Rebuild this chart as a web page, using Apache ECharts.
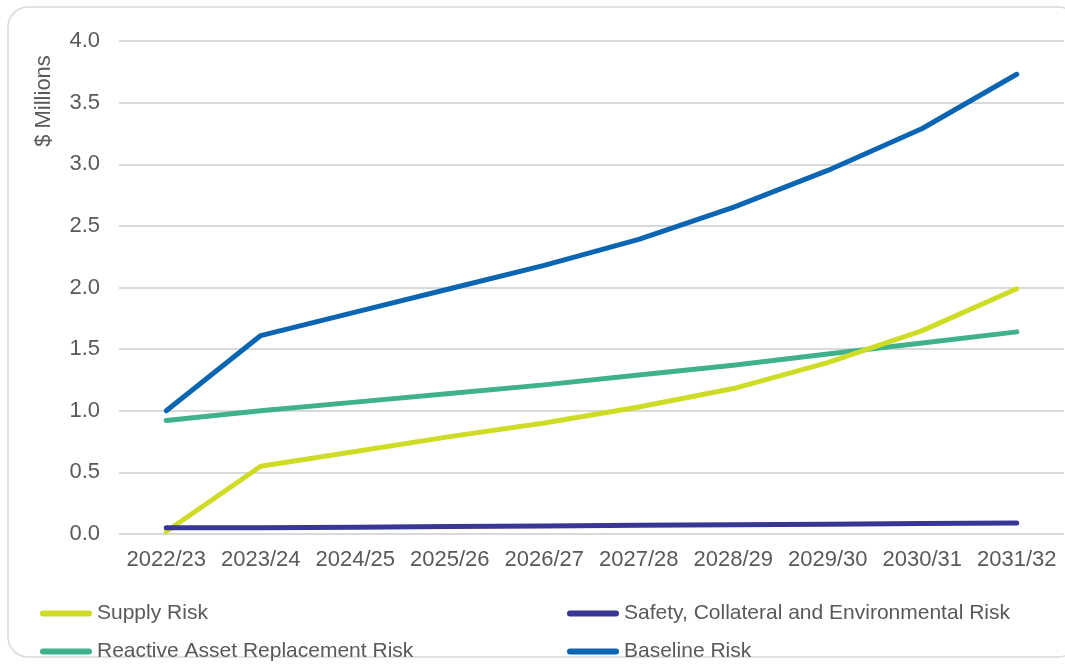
<!DOCTYPE html>
<html>
<head>
<meta charset="utf-8">
<script src="https://cdn.jsdelivr.net/npm/echarts@6/dist/echarts.min.js"></script>
<style>
  html, body { margin: 0; padding: 0; background: #fff; }
  #chart { width: 1065px; height: 666px; }
</style>
</head>
<body>
<div id="chart"></div>
<script>
// risk profile chart
var years = ['2022/23', '2023/24', '2024/25', '2025/26', '2026/27', '2027/28', '2028/29', '2029/30', '2030/31', '2031/32'];
var supplyRisk = [0.02, 0.55, 0.67, 0.79, 0.90, 1.03, 1.18, 1.39, 1.65, 1.99];
var safetyRisk = [0.05, 0.05, 0.055, 0.06, 0.065, 0.07, 0.075, 0.08, 0.085, 0.09];
var reactiveRisk = [0.92, 1.00, 1.07, 1.14, 1.21, 1.29, 1.37, 1.46, 1.55, 1.64];
var baselineRisk = [1.00, 1.61, 1.80, 1.99, 2.18, 2.39, 2.65, 2.95, 3.29, 3.73];

var textColor = '#595959';
var font = 'Liberation Sans, Arial, sans-serif';
var capsule = 'path://M3,0 H49 A3,3 0 0 1 49,6 H3 A3,3 0 0 1 3,0 Z';

function makeLine(name, data, color, z) {
    return {
        name: name,
        type: 'line',
        data: data,
        z: z,
        showSymbol: false,
        symbol: 'none',
        lineStyle: { color: color, width: 5, cap: 'round', join: 'round' },
        itemStyle: { color: color }
    };
}

// one legend per entry so the two columns sit where they should
function makeLegend(name, left, top) {
    return {
        left: left,
        top: top,
        padding: 0,
        itemWidth: 52,
        itemHeight: 6,
        itemGap: 0,
        icon: capsule,
        textStyle: { color: textColor, fontSize: 21, fontFamily: font },
        data: [name]
    };
}

var chart = echarts.init(document.getElementById('chart'));

var option = {
    animation: false,
    backgroundColor: '#fff',
    textStyle: { fontFamily: font },
    grid: { left: 119, right: 1, top: 41, bottom: 132 },
    legend: [
        makeLegend('Supply Risk', 40, 603),
        makeLegend('Reactive Asset Replacement Risk', 40, 641),
        makeLegend('Safety, Collateral and Environmental Risk', 567, 603),
        makeLegend('Baseline Risk', 567, 641)
    ],
    xAxis: {
        type: 'category',
        boundaryGap: true,
        data: years,
        axisLine: { show: false },
        axisTick: { show: false },
        axisLabel: { color: textColor, fontSize: 22, fontFamily: font, margin: 15, interval: 0 }
    },
    yAxis: {
        type: 'value',
        min: 0,
        max: 4,
        interval: 0.5,
        axisLine: { show: false },
        axisTick: { show: false },
        axisLabel: {
            color: textColor, fontSize: 22, fontFamily: font, margin: 19,
            formatter: function (v) { return v.toFixed(1); }
        },
        splitLine: { lineStyle: { color: '#d9d9d9', width: 2 } }
    },
    graphic: [{
        type: 'rect',
        silent: true,
        shape: { x: 8, y: 7, width: 1070, height: 650, r: 20 },
        style: { fill: 'none', stroke: '#d9d9d9', lineWidth: 1.5 },
        z: -1
    }, {
        type: 'text',
        x: 44,
        y: 101,
        rotation: Math.PI / 2,
        style: {
            text: '$ Millions',
            fill: textColor,
            font: '22px ' + font,
            align: 'center',
            verticalAlign: 'middle'
        }
    }],
    series: [
        makeLine('Supply Risk', supplyRisk, '#cfdc26', 3),
        makeLine('Safety, Collateral and Environmental Risk', safetyRisk, '#383795', 4),
        makeLine('Reactive Asset Replacement Risk', reactiveRisk, '#40b28b', 2),
        makeLine('Baseline Risk', baselineRisk, '#0a65b3', 5)
    ]
};

chart.setOption(option);
</script>
</body>
</html>
